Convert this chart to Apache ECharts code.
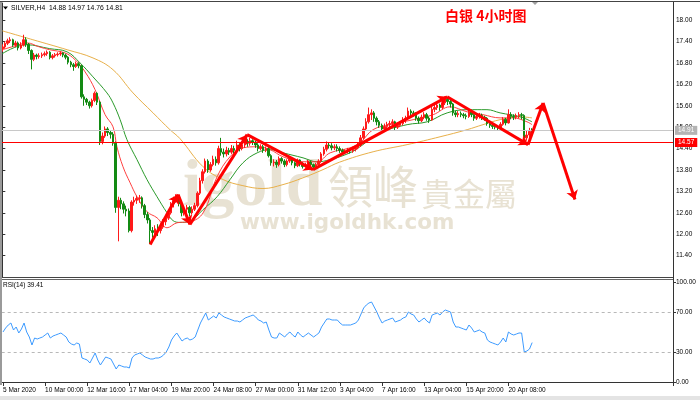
<!DOCTYPE html>
<html><head><meta charset="utf-8">
<script src="https://cdn.jsdelivr.net/npm/echarts@6/dist/echarts.min.js"></script>
<style>html,body{margin:0;padding:0;background:#fff}#c{width:700px;height:400px}</style>
</head><body><div id="c"></div>
<script>
const NCAT = 255;
const tickStep = 16;
const tickLabels = ["5 Mar 2020","10 Mar 00:00","12 Mar 16:00","17 Mar 04:00","19 Mar 20:00","24 Mar 08:00","27 Mar 00:00","31 Mar 12:00","3 Apr 04:00","7 Apr 16:00","13 Apr 04:00","15 Apr 20:00","20 Apr 08:00"];
const priceTicks = [11.4,12.0,12.6,13.2,13.8,14.4,15.0,15.6,16.2,16.8,17.4,18.0];
const rsiTicks = [0,30,70,100];
const rsiLevels = [30,70];
const askPrice = 14.91;
const levelPrice = 14.57;
const headerText = "SILVER,H4  14.88 14.97 14.76 14.81";
const rsiText = "RSI(14) 39.41";
const titleText = "白银 4小时图";

// [open, close, low, high]
const candles = [
[17.20,17.25,17.12,17.32],[17.25,17.35,17.20,17.40],[17.35,17.42,17.30,17.48],[17.42,17.45,17.36,17.52],[17.45,17.30,17.25,17.48],
[17.30,17.36,17.24,17.42],[17.36,17.22,17.15,17.40],[17.22,17.30,17.18,17.38],[17.30,17.45,17.26,17.59],[17.45,17.32,17.25,17.52],
[17.32,17.15,17.05,17.36],[17.15,16.90,16.62,17.18],[16.90,17.02,16.85,17.08],[17.02,16.98,16.90,17.06],[16.98,17.00,16.92,17.07],
[17.00,17.03,16.94,17.09],[17.03,17.06,16.98,17.12],[17.06,17.10,17.00,17.15],[17.10,16.95,16.90,17.13],[16.95,17.00,16.90,17.05],
[17.00,17.03,16.95,17.08],[17.03,17.05,16.98,17.10],[17.05,17.08,17.00,17.12],[17.08,17.02,16.96,17.10],[17.02,16.96,16.90,17.06],
[16.96,16.82,16.76,16.99],[16.82,16.75,16.68,16.86],[16.75,16.70,16.58,16.80],[16.70,16.78,16.66,16.84],[16.78,16.72,16.65,16.82],
[16.72,15.85,15.80,16.75],[15.85,15.78,15.60,15.92],[15.78,15.70,15.62,15.82],[15.70,15.60,15.52,15.74],[15.60,15.75,15.55,15.80],
[15.75,15.95,15.70,16.00],[15.95,15.70,15.62,15.98],[15.70,14.60,14.50,15.74],[14.60,14.75,14.52,14.85],[14.75,14.95,14.70,15.02],
[14.95,14.85,14.75,15.00],[14.85,14.80,14.68,14.92],[14.80,14.55,14.48,14.86],[14.55,12.75,12.60,14.60],[12.75,12.95,11.80,13.05],
[12.95,12.85,12.70,13.02],[12.85,12.70,12.58,12.92],[12.70,12.65,12.50,12.80],[12.65,12.10,12.05,12.72],[12.10,12.90,12.05,12.95],
[12.90,12.95,12.80,13.05],[12.95,13.00,12.85,13.08],[13.00,13.02,12.88,13.10],[13.02,12.80,12.72,13.06],[12.80,12.55,12.45,12.85],
[12.55,12.40,12.30,12.62],[12.40,12.10,11.72,12.45],[12.10,12.05,11.90,12.20],[12.05,12.15,11.98,12.25],[12.15,12.10,11.95,12.28],
[12.10,12.20,12.02,12.30],[12.20,12.35,12.15,12.42],[12.35,12.45,12.25,12.52],[12.45,12.60,12.40,12.68],[12.60,12.85,12.55,12.90],
[12.85,12.95,12.75,13.05],[12.95,13.05,12.88,13.12],[13.05,12.85,12.78,13.10],[12.85,12.60,12.50,12.90],[12.60,12.70,12.52,12.78],
[12.70,12.75,12.60,12.82],[12.75,12.60,12.50,12.80],[12.60,12.70,12.55,12.78],[12.70,12.80,12.65,12.88],[12.80,13.15,12.75,13.20],
[13.15,13.50,13.10,13.58],[13.50,13.75,13.42,13.82],[13.75,14.05,13.70,14.12],[14.05,13.80,13.72,14.10],[13.80,13.95,13.75,14.02],
[13.95,14.10,13.90,14.20],[14.10,14.00,13.92,14.18],[14.00,14.40,13.95,14.48],[14.40,14.30,14.20,14.70],[14.30,14.25,14.15,14.40],
[14.25,14.35,14.18,14.45],[14.35,14.30,14.22,14.42],[14.30,14.40,14.25,14.50],[14.40,14.35,14.26,14.48],[14.35,14.50,14.30,14.62],
[14.50,14.40,14.32,14.55],[14.40,14.50,14.35,14.58],[14.50,14.60,14.42,14.68],[14.60,14.55,14.45,14.66],[14.55,14.62,14.48,14.70],
[14.62,14.58,14.50,14.66],[14.58,14.50,14.42,14.62],[14.50,14.40,14.32,14.55],[14.40,14.45,14.35,14.52],[14.45,14.35,14.28,14.50],
[14.35,14.40,14.30,14.46],[14.40,14.20,14.15,14.44],[14.20,14.00,13.92,14.24],[14.00,14.02,13.90,14.10],[14.02,13.95,13.86,14.08],
[13.95,14.12,13.90,14.18],[14.12,14.05,13.98,14.16],[14.05,13.95,13.88,14.10],[13.95,14.05,13.90,14.10],[14.05,14.12,14.00,14.18],
[14.12,14.00,13.93,14.15],[14.00,13.92,13.85,14.04],[13.92,14.08,13.88,14.12],[14.08,13.98,13.90,14.10],[13.98,13.90,13.84,14.02],
[13.90,13.95,13.86,14.00],[13.95,14.02,13.90,14.08],[14.02,13.95,13.88,14.05],[13.95,13.88,13.82,13.98],[13.88,13.95,13.84,14.00],
[13.95,14.05,13.92,14.10],[14.05,14.25,14.00,14.30],[14.25,14.38,14.20,14.45],[14.38,14.50,14.32,14.60],[14.50,14.48,14.40,14.58],
[14.48,14.42,14.35,14.55],[14.42,14.45,14.36,14.52],[14.45,14.40,14.32,14.52],[14.40,14.35,14.28,14.46],[14.35,14.30,14.22,14.40],
[14.30,14.32,14.24,14.38],[14.32,14.35,14.26,14.42],[14.35,14.33,14.26,14.40],[14.33,14.38,14.28,14.45],[14.38,14.42,14.32,14.48],
[14.42,14.50,14.38,14.56],[14.50,14.70,14.45,14.78],[14.70,14.95,14.65,15.02],[14.95,15.15,14.90,15.25],[15.15,15.35,15.10,15.55],
[15.35,15.40,15.20,15.50],[15.40,15.25,15.15,15.45],[15.25,15.15,15.05,15.30],[15.15,15.05,14.98,15.20],[15.05,14.95,14.88,15.10],
[14.95,15.02,14.90,15.10],[15.02,15.08,14.96,15.15],[15.08,15.10,15.00,15.18],[15.10,15.15,15.04,15.22],[15.15,15.00,14.92,15.18],
[15.00,15.05,14.95,15.12],[15.05,15.10,15.00,15.16],[15.10,15.20,15.05,15.28],[15.20,15.25,15.12,15.32],[15.25,15.45,15.20,15.55],
[15.45,15.40,15.30,15.50],[15.40,15.38,15.30,15.46],[15.38,15.25,15.18,15.42],[15.25,15.18,15.10,15.30],[15.18,15.28,15.14,15.35],
[15.28,15.35,15.22,15.42],[15.35,15.25,15.18,15.40],[15.25,15.20,15.12,15.30],[15.20,15.50,15.18,15.58],[15.50,15.55,15.42,15.62],
[15.55,15.62,15.48,15.70],[15.62,15.55,15.46,15.66],[15.55,15.68,15.50,15.76],[15.68,15.78,15.62,15.86],[15.78,15.72,15.62,15.82],
[15.72,15.65,15.55,15.76],[15.65,15.40,15.32,15.68],[15.40,15.35,15.28,15.46],[15.35,15.38,15.28,15.45],[15.38,15.35,15.28,15.44],
[15.35,15.32,15.25,15.40],[15.32,15.30,15.22,15.38],[15.30,15.42,15.26,15.48],[15.42,15.35,15.28,15.46],[15.35,15.25,15.18,15.38],
[15.25,15.30,15.20,15.36],[15.30,15.33,15.24,15.40],[15.33,15.28,15.20,15.38],[15.28,15.25,15.18,15.32],[15.25,15.10,15.04,15.28],
[15.10,15.05,14.98,15.14],[15.05,15.02,14.95,15.10],[15.02,15.00,14.94,15.08],[15.00,14.98,14.92,15.05],[14.98,15.08,14.95,15.14],
[15.08,15.22,15.04,15.28],[15.22,15.12,15.05,15.26],[15.12,15.35,15.10,15.50],[15.35,15.30,15.22,15.42],[15.30,15.28,15.20,15.36],
[15.28,15.32,15.22,15.38],[15.32,15.35,15.25,15.42],[15.35,15.33,15.22,15.40],[15.33,14.70,14.60,15.36],[14.70,14.78,14.62,14.90],
[14.78,14.88,14.70,14.98],[14.88,14.81,14.76,14.97]
];

// moving averages: [bar index, value]
const maFast = [[0,17.17],[5,17.28],[9.4,17.36],[14,17.25],[18,17.17],[23.8,17.08],[27.6,16.89],[31.4,16.55],[35.2,16.05],[39,15.35],[42,15.01],[43.5,14.45],[45.8,13.89],[48.5,13.44],[51.1,13.05],[54.9,12.63],[58.7,12.46],[62.5,12.18],[66.3,12.32],[71.2,12.35],[76.2,12.6],[81.5,13.61],[86.4,14.17],[91.3,14.42],[96.7,14.45],[101.6,14.37],[106.5,14.17],[114.1,14.03],[119.4,14.03],[124.4,14.28],[131.9,14.42],[135.7,14.56],[140.7,14.93],[147.1,15.07],[155.9,15.21],[163.5,15.35],[169.9,15.57],[176.4,15.43],[182.4,15.35],[188.9,15.26],[193.8,15.26],[199.1,15.15],[201,15.07]];
const maMid = [[0,17.06],[9,17.31],[18,17.2],[24.6,17.11],[29.5,16.8],[34.4,16.41],[39.7,15.96],[42,15.68],[44.7,15.21],[47.3,14.65],[51.1,14.09],[54.9,13.53],[58.7,13.05],[62.5,12.6],[64.8,12.38],[67.4,12.33],[71,12.36],[76.2,12.69],[81.5,13.05],[86.4,13.53],[91.3,14.0],[96.7,14.28],[101.6,14.37],[106.5,14.28],[114.1,14.14],[119.4,14.03],[124.4,14.09],[131.9,14.28],[135.7,14.45],[143.3,14.84],[153.6,15.07],[161.2,15.15],[168.8,15.4],[176.4,15.49],[183.9,15.49],[188.9,15.4],[196.5,15.29],[201,15.15]];
const maSlow = [[0,17.7],[11.6,17.45],[24.6,17.17],[34.4,16.94],[42,16.61],[49.6,15.96],[57.2,15.4],[63.6,14.93],[67.4,14.68],[76.2,13.89],[83.8,13.53],[91.3,13.36],[98.9,13.28],[106.5,13.39],[114.1,13.58],[121.7,13.81],[128,14.02],[140.7,14.31],[153.6,14.51],[166.1,14.73],[176.4,14.93],[182.4,15.07],[188.9,15.21],[196.5,15.29],[201,15.26]];

const rsi = [50,54,57,59,52,55,49,53,59,50,45,37,44,43,44,45,47,49,44,46,
47,48,49,47,45,40,38,37,39,38,24,23,22,19,24,29,22,17,21,25,
24,23,18,13,17,16,15,15,14,24,27,28,29,27,25,24,23,23,24,24,
25,27,30,35,42,46,49,45,41,43,44,42,43,45,52,59,64,69,62,64,
66,64,69,67,65,64,63,62,61,61,60,62,64,65,66,67,65,62,61,59,
60,52,45,44,44,49,47,45,48,50,47,45,50,47,45,47,49,47,45,47,
49,55,59,63,63,62,62,62,59,57,57,57,57,58,59,62,68,74,77,79,
80,75,70,64,59,61,62,63,64,60,61,62,64,65,70,68,67,63,60,62,
64,61,59,67,68,69,67,70,72,71,70,60,55,55,54,53,52,57,54,50,
51,52,50,49,42,40,39,38,37,40,44,40,50,48,47,48,49,49,30,31,
33,39.41];

// hand-drawn arrow path: bar index / price
const arrowIdx = [56.1,66.7,71.2,92.9,117.9,168.8,199.5,205.2,217.3];
const arrowPrice = [11.71,13.11,12.27,14.79,13.81,15.85,14.51,15.68,12.97];

const cats = Array.from({length: NCAT}, (_, i) => String(i));
const isTick = i => i % tickStep === 0 && (i / tickStep) < tickLabels.length;
const arrowSegs = [];
for (let k = 0; k < arrowIdx.length - 1; k++) {
  arrowSegs.push({coords: [[arrowIdx[k], arrowPrice[k]], [arrowIdx[k+1], arrowPrice[k+1]]]});
}
const FONT = 'Liberation Sans';
const WM = '#e8e2d3';

const chart = echarts.init(document.getElementById('c'), null, {renderer: 'canvas'});
chart.setOption({
  animation: false,
  backgroundColor: '#ffffff',
  grid: [
    {left: 1, right: 27, top: 3, height: 274},
    {left: 1, right: 27, top: 282, height: 100}
  ],
  xAxis: [
    {type: 'category', gridIndex: 0, data: cats, boundaryGap: true, show: false},
    {type: 'category', gridIndex: 1, data: cats, boundaryGap: true, offset: 3,
      axisLine: {show: true, lineStyle: {color: '#333', width: 1}},
      axisTick: {show: true, alignWithLabel: true, interval: i => isTick(i), length: 4, lineStyle: {color: '#333'}},
      axisLabel: {show: true, interval: i => isTick(i), formatter: (v, i) => tickLabels[i / tickStep] || '',
        align: 'left', margin: 2, fontSize: 6.5, fontFamily: FONT, color: '#000'},
      splitLine: {show: false}},
    {type: 'value', gridIndex: 0, min: -0.5, max: NCAT - 0.5, show: false}
  ],
  yAxis: [
    {type: 'value', gridIndex: 0, position: 'right', min: 10.8, max: 18.48, scale: true,
      axisLine: {show: true, lineStyle: {color: '#333'}},
      axisTick: {show: true, inside: false, length: 3, customValues: priceTicks, lineStyle: {color: '#333'}},
      axisLabel: {show: true, customValues: priceTicks, formatter: v => v.toFixed(2), margin: 3,
        fontSize: 6.5, fontFamily: FONT, color: '#000'},
      splitLine: {show: false}},
    {type: 'value', gridIndex: 1, position: 'right', min: 0, max: 100,
      axisLine: {show: true, lineStyle: {color: '#333'}},
      axisTick: {show: true, inside: false, length: 3, customValues: rsiTicks, lineStyle: {color: '#333'}},
      axisLabel: {show: true, customValues: rsiTicks, formatter: v => v.toFixed(2), margin: 3,
        fontSize: 6.5, fontFamily: FONT, color: '#000'},
      splitLine: {show: false}}
  ],
  series: [
    {type: 'line', xAxisIndex: 2, yAxisIndex: 0, data: maSlow, smooth: 0.4, showSymbol: false, silent: true,
      lineStyle: {color: '#e8b04a', width: 1}, z: 3},
    {type: 'line', xAxisIndex: 2, yAxisIndex: 0, data: maMid, smooth: 0.4, showSymbol: false, silent: true,
      lineStyle: {color: '#2a9a2a', width: 1}, z: 3},
    {type: 'line', xAxisIndex: 2, yAxisIndex: 0, data: maFast, smooth: 0.4, showSymbol: false, silent: true,
      lineStyle: {color: '#ff4040', width: 1}, z: 3},
    {type: 'candlestick', xAxisIndex: 0, yAxisIndex: 0, data: candles, barWidth: 2, z: 4,
      itemStyle: {color: '#ff1a1a', color0: '#138a13', borderColor: '#ff1a1a', borderColor0: '#138a13', borderWidth: 1},
      markLine: {silent: true, symbol: 'none', animation: false,
        data: [
          {yAxis: askPrice, lineStyle: {color: '#c8c8c8', width: 1, type: 'solid'},
            label: {show: true, position: 'end', distance: 2, formatter: askPrice.toFixed(2), color: '#fff',
              backgroundColor: '#b4b4b4', padding: [1, 3], fontSize: 6.5, fontFamily: FONT}},
          {yAxis: levelPrice, lineStyle: {color: '#ff0000', width: 1, type: 'solid'},
            label: {show: true, position: 'end', distance: 2, formatter: levelPrice.toFixed(2), color: '#fff',
              backgroundColor: '#ff0000', padding: [1, 3], fontSize: 6.5, fontFamily: FONT}}
        ]}},
    {type: 'lines', coordinateSystem: 'cartesian2d', xAxisIndex: 2, yAxisIndex: 0, data: arrowSegs,
      symbol: ['none', 'arrow'], symbolSize: 9, silent: true, z: 6,
      lineStyle: {color: '#ff0000', width: 3, curveness: 0, opacity: 1}},
    {type: 'line', xAxisIndex: 1, yAxisIndex: 1, data: rsi, showSymbol: false, silent: true,
      lineStyle: {color: '#3d9bff', width: 1},
      markLine: {silent: true, symbol: 'none', animation: false, label: {show: false},
        data: rsiLevels.map(v => ({yAxis: v})),
        lineStyle: {color: '#b8b8b8', type: [3, 3], width: 1}}}
  ],
  graphic: [
    {type: 'rect', shape: {x: 0, y: 396, width: 700, height: 4}, style: {fill: '#e4e4e4'}, z: 0},
    {type: 'line', shape: {x1: 0, y1: 1.5, x2: 700, y2: 1.5}, style: {stroke: '#444', lineWidth: 1}, z: 10},
    {type: 'line', shape: {x1: 0, y1: 277.5, x2: 674, y2: 277.5}, style: {stroke: '#444', lineWidth: 1}, z: 10},
    {type: 'line', shape: {x1: 0, y1: 279.5, x2: 674, y2: 279.5}, style: {stroke: '#666', lineWidth: 1}, z: 10},
    {type: 'line', shape: {x1: 1, y1: 2, x2: 1, y2: 385}, style: {stroke: '#9a9a9a', lineWidth: 2}, z: 10},
    {type: 'line', shape: {x1: 673.5, y1: 2, x2: 673.5, y2: 386}, style: {stroke: '#333', lineWidth: 1}, z: 10},
    {type: 'polygon', shape: {points: [[532, 2], [538, 2], [535, 5]]}, style: {fill: '#a0a0a0'}, z: 10},
    {type: 'polygon', shape: {points: [[3, 6.5], [8, 6.5], [5.5, 9.5]]}, style: {fill: '#000'}, z: 10},
    {type: 'text', x: 11, y: 8, style: {text: headerText, fontSize: 6.8, fontFamily: FONT, fill: '#000', verticalAlign: 'middle'}, z: 10},
    {type: 'text', x: 3, y: 285, style: {text: rsiText, fontSize: 6.5, fontFamily: FONT, fill: '#000', verticalAlign: 'middle'}, z: 10},
    {type: 'text', x: 445, y: 16, style: {text: titleText, fontSize: 14, fontWeight: 'bold', fontFamily: 'Noto Sans CJK SC', fill: '#ff0000', verticalAlign: 'middle'}, z: 10},
    {type: 'text', x: 183, y: 188, style: {text: 'igold', fontSize: 66, fontWeight: 'bold', fontFamily: 'Liberation Serif', fill: WM, verticalAlign: 'middle'}, z: 0},
    {type: 'text', x: 328, y: 187, style: {text: '領峰', fontSize: 45, fontFamily: 'Noto Sans CJK TC', fill: WM, verticalAlign: 'middle'}, z: 0},
    {type: 'text', x: 421, y: 194, style: {text: '貴金屬', fontSize: 32, fontFamily: 'Noto Sans CJK TC', fill: WM, verticalAlign: 'middle'}, z: 0},
    {type: 'text', x: 240, y: 223, style: {text: 'www.igoldhk.com', fontSize: 21.5, fontWeight: 'bold', fontFamily: 'DejaVu Sans', fill: WM, verticalAlign: 'middle'}, z: 0}
  ]
});
</script>
</body></html>
